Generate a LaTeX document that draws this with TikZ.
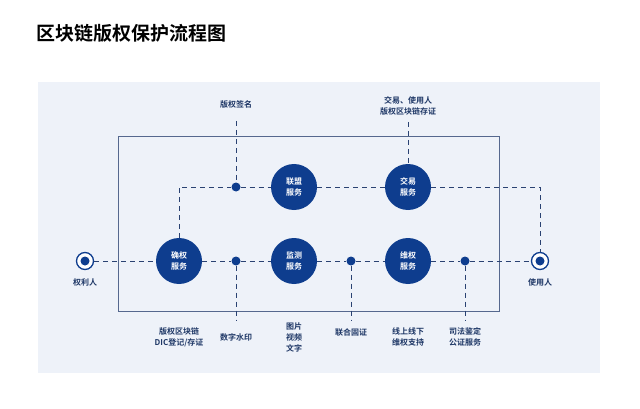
\documentclass[tikz,border=0pt]{standalone}
\usepackage{fontspec}
\setmainfont{Noto Sans CJK SC}[BoldFont={Noto Sans CJK SC Bold}]
\definecolor{cblue}{HTML}{0E3D8E}
\definecolor{lineb}{HTML}{2A4272}
\definecolor{panel}{HTML}{EEF2F9}
\definecolor{txt}{HTML}{1E3766}
\begin{document}
\begin{tikzpicture}[x=1pt,y=-1pt,
 svc/.style={circle,fill=cblue,minimum size=46pt,inner sep=0pt,text=white,font=\bfseries\fontsize{8}{10.5}\selectfont,align=center},
 dotn/.style={circle,fill=cblue,minimum size=9pt,inner sep=0pt},
 endn/.style={circle,draw=cblue,line width=1.3pt,fill=white,minimum size=17pt,inner sep=0pt,
   path picture={\fill[cblue] (path picture bounding box.center) circle (4.5pt);}},
 lbl/.style={text=txt,font=\bfseries\fontsize{8}{11}\selectfont,align=center,inner sep=1pt},
 dl/.style={draw=lineb,dashed,dash pattern=on 5pt off 4pt,line width=1pt}]
\useasboundingbox (0,0) rectangle (640,409);
\fill[white] (0,0) rectangle (640,409);
\fill[panel] (38,82) rectangle (600,373);
\node[anchor=west,text=black,font=\bfseries\fontsize{19}{21}\selectfont,inner sep=0] (title) at (36,33) {区块链版权保护流程图};
\draw[draw=lineb!80,line width=0.8pt] (118,136) rectangle (499,311);
% nodes
\node[svc] (qq) at (179,261) {确权\\服务};
\node[svc] (lm) at (294,187) {联盟\\服务};
\node[svc] (jc) at (294,261) {监测\\服务};
\node[svc] (jy) at (408,187) {交易\\服务};
\node[svc] (wq) at (408,261) {维权\\服务};
\node[dotn] (d1) at (236,187) {};
\node[dotn] (d2) at (236,261) {};
\node[dotn] (d3) at (351,261) {};
\node[dotn] (d4) at (465,261) {};
\node[endn] (qlr) at (85,261) {};
\node[endn] (syr) at (540,261) {};
\node[lbl] (qlrl) at (85,282) {权利人};
\node[lbl] (syrl) at (540,282) {使用人};
\node[lbl] (sig) at (236,104) {版权签名};
\node[lbl] (jyl) at (408,106) {交易、使用人\\版权区块链存证};
\node[lbl] (b1) at (179,337) {版权区块链\\DIC登记/存证};
\node[lbl] (b2) at (236,337) {数字水印};
\node[lbl] (b3) at (294,337) {图片\\视频\\文字};
\node[lbl] (b4) at (351,332) {联合固证};
\node[lbl] (b5) at (408,337) {线上线下\\维权支持};
\node[lbl] (b6) at (465,337) {司法鉴定\\公证服务};
\coordinate (c1) at (179,187);
\coordinate (c2) at (540,187);
\coordinate (s1) at (236,121);
\coordinate (s2) at (408,122);
\coordinate (e2) at (236,320);
\coordinate (e4) at (351,320);
\coordinate (e6) at (465,320);
% connectors
\draw[dl] (qlr) -- (qq);
\draw[dl] (qq) -- (d2) -- (jc) -- (d3) -- (wq) -- (d4) -- (syr);
\draw[dl] (qq) -- (c1) -- (d1) -- (lm) -- (jy) -- (c2) -- (syr);
\draw[dl] (s1) -- (d1);
\draw[dl] (s2) -- (jy);
\draw[dl] (d2) -- (e2);
\draw[dl] (d3) -- (e4);
\draw[dl] (d4) -- (e6);
\end{tikzpicture}
\end{document}
